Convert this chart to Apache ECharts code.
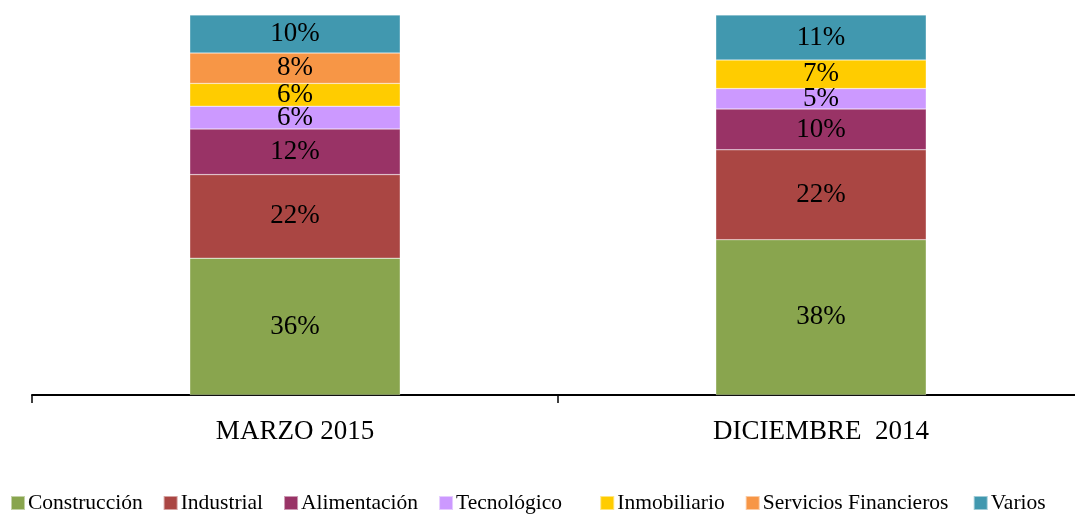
<!DOCTYPE html>
<html>
<head>
<meta charset="utf-8">
<script src="https://cdn.jsdelivr.net/npm/echarts@6/dist/echarts.min.js"></script>
<style>html,body{margin:0;padding:0;background:#fff;overflow:hidden;}#c{width:1090px;height:514px;}</style>
</head>
<body>
<div id="c"></div>
<script>
const categories = ['MARZO 2015', 'DICIEMBRE  2014'];
const seriesNames = ['Construcción', 'Industrial', 'Alimentación', 'Tecnológico', 'Inmobiliario', 'Servicios Financieros', 'Varios'];
const construccion = [36, 38];
const industrial = [22, 22];
const alimentacion = [12, 10];
const tecnologico = [6, 5];
const inmobiliario = [6, 7];
const serviciosFinancieros = [8, null];
const varios = [10, 11];
const colors = ['#89A54E', '#AA4643', '#993366', '#CC99FF', '#FFCC00', '#F79646', '#4198AF'];

const raw = [construccion, industrial, alimentacion, tecnologico, inmobiliario, serviciosFinancieros, varios];
const totals = categories.map((_, i) => raw.reduce((s, arr) => s + (arr[i] || 0), 0));
const font = '"Liberation Serif", "Times New Roman", serif';
const legendTrailingThinSpaces = [0, 0, 0, 4, 0, 1, 0];

const series = raw.map((arr, k) => ({
  name: seriesNames[k],
  type: 'bar',
  stack: 'total',
  barWidth: '40%',
  itemStyle: { color: colors[k], borderColor: 'rgba(255,255,255,0.5)', borderWidth: 0.5 },
  label: {
    show: true,
    position: 'inside',
    color: '#000',
    fontFamily: font,
    fontSize: 27,
    formatter: p => (arr[p.dataIndex] == null ? '' : arr[p.dataIndex] + '%')
  },
  data: arr.map((v, i) => (v == null ? null : { value: v / totals[i] * 100 }))
}));

const chart = echarts.init(document.getElementById('c'));
chart.setOption({
  animation: false,
  grid: { left: 32, width: 1052, top: 15, bottom: 119, containLabel: false },
  xAxis: {
    type: 'category',
    data: categories,
    axisLine: { lineStyle: { color: '#000', width: 2 } },
    axisTick: { show: true, length: 8, lineStyle: { color: '#000', width: 1.5 } },
    axisLabel: { color: '#000', fontFamily: font, fontSize: 27, margin: 23 }
  },
  yAxis: { type: 'value', min: 0, max: 100, show: false, splitLine: { show: false } },
  legend: {
    padding: 0,
    bottom: 0,
    left: 10,
    itemWidth: 14,
    itemHeight: 14,
    itemGap: 20,
    icon: 'rect',
    textStyle: { color: '#000', fontFamily: font, fontSize: 21.5, padding: [0, 0, 0, -2] },
    formatter: name => name + '\u2009'.repeat(legendTrailingThinSpaces[seriesNames.indexOf(name)]),
    data: seriesNames
  },
  series: series
});
</script>
</body>
</html>
